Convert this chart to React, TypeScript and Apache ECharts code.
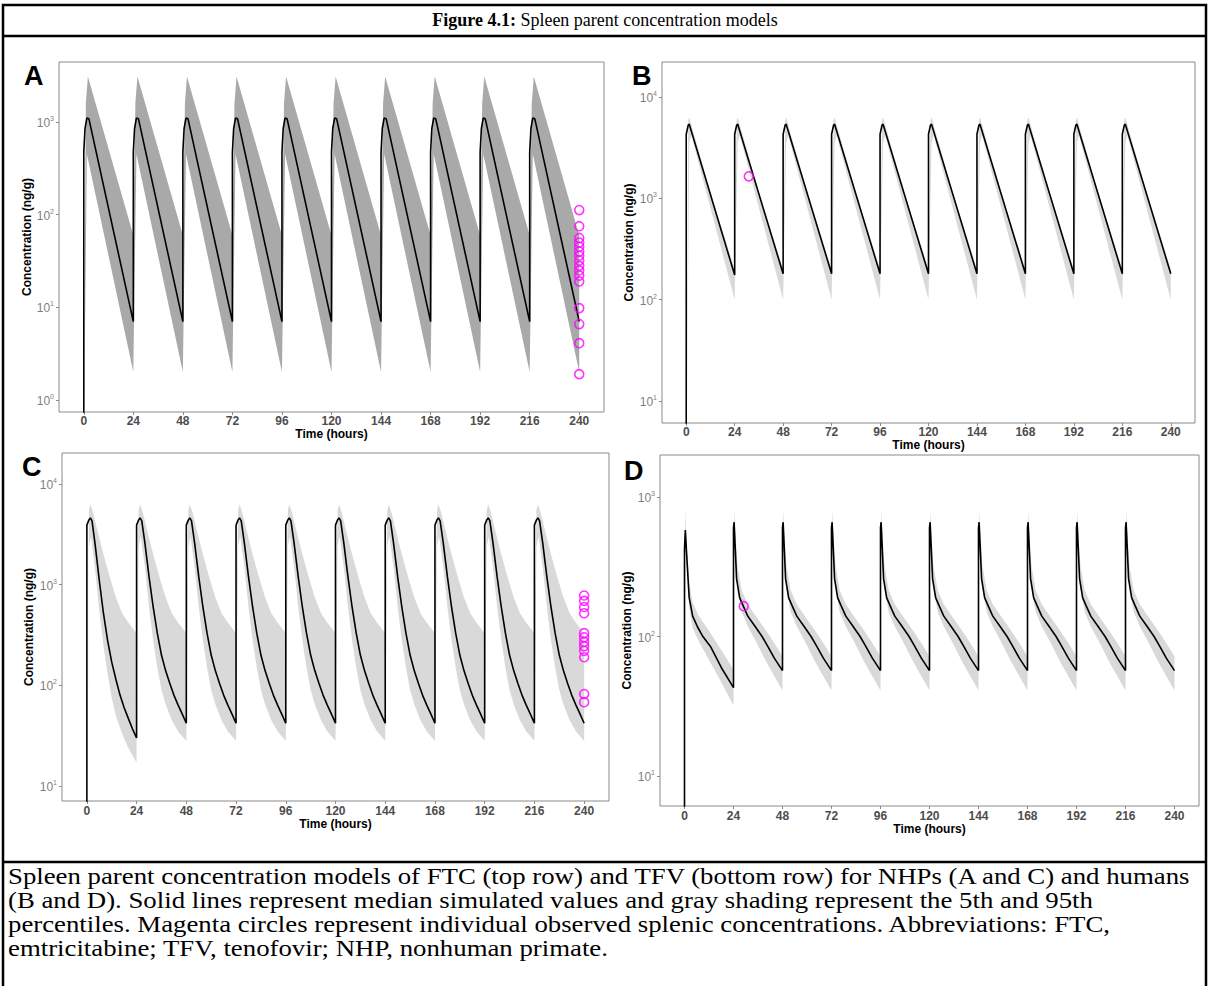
import React, { useEffect, useRef } from "react";
import * as echarts from "echarts";

const W = 1209;
const H = 986;
const SANS = "Liberation Sans, Arial, sans-serif";
const SERIF = "Liberation Serif, Times New Roman, serif";

// ---------- shared ----------
const doseTimes = [0, 24, 48, 72, 96, 120, 144, 168, 192, 216];
const xTicks = [0, 24, 48, 72, 96, 120, 144, 168, 192, 216, 240];

// ---------- Panel A: FTC, NHP ----------  [hours after dose, ng/g]
const aMedianFirst = [[0, 0.3], [0, 470], [0.6, 850], [1.5, 1100], [2.5, 1080], [24, 7]];
const aMedianRepeat = [[0, 7], [0, 470], [0.6, 850], [1.5, 1100], [2.5, 1080], [24, 7]];
const aUpperFirst = [[0, 0.3], [1, 1600], [2, 3100], [24, 60]];
const aUpperRepeat = [[0, 60], [1, 1600], [2, 3100], [24, 60]];
const aLowerFirst = [[0, 0.3], [1.5, 450], [24, 2]];
const aLowerRepeat = [[0, 2], [1.5, 450], [24, 2]];
const aObsTime = 240;
const aObserved = [112, 75, 56, 50, 45, 40, 36, 32, 28, 25, 22, 19, 9.8, 6.6, 4.1, 1.9];

// ---------- Panel B: FTC, human ----------
const bMedianFirst = [[0, 1], [0, 4300], [1, 5300], [1.5, 5400], [24, 175]];
const bMedianRepeat = [[0, 180], [0, 4300], [1, 5300], [1.5, 5400], [24, 180]];
const bUpperFirst = [[0, 1], [1, 5900], [1.5, 6300], [12, 1150], [24, 200]];
const bUpperRepeat = [[0, 200], [1, 5900], [1.5, 6300], [12, 1150], [24, 200]];
const bLowerFirst = [[0, 1], [1.5, 3500], [2.5, 4200], [24, 100]];
const bLowerRepeat = [[0, 100], [1.5, 3500], [2.5, 4200], [24, 100]];
const bObserved = [[31, 1650]];

// ---------- Panel C: TFV, NHP ----------
const cMedianFirst = [[0, 1], [0, 3900], [1, 4400], [1.7, 4600], [2.5, 4300], [4, 2500], [6, 1100], [8, 520], [10, 280], [12, 170], [14, 115], [16, 80], [18, 60], [20, 47], [22, 37], [24, 30]];
const cMedianRepeat = [[0, 42], [0, 3900], [1, 4400], [1.7, 4600], [2.5, 4300], [4, 2600], [6, 1200], [8, 600], [10, 330], [12, 200], [14, 140], [16, 105], [18, 80], [20, 64], [22, 52], [24, 42]];
const cUpperFirst = [[0, 1], [1, 5500], [1.7, 6300], [3, 5200], [5, 3500], [8, 2000], [11, 1200], [14, 750], [17, 520], [20, 420], [24, 330]];
const cUpperRepeat = [[0, 330], [1, 5500], [1.7, 6300], [3, 5200], [5, 3500], [8, 2000], [11, 1200], [14, 750], [17, 520], [20, 420], [24, 330]];
const cLowerFirst = [[0, 1], [1, 2400], [2, 3000], [4, 1400], [6, 550], [8, 250], [10, 130], [12, 75], [14, 50], [17, 33], [20, 24], [24, 17]];
const cLowerRepeat = [[0, 28], [1, 2400], [2, 3000], [4, 1500], [6, 600], [8, 280], [10, 150], [12, 90], [14, 65], [17, 45], [20, 35], [24, 28]];
const cObsTime = 240;
const cObserved = [780, 690, 600, 520, 330, 300, 270, 245, 220, 190, 82, 68];

// ---------- Panel D: TFV, human ----------
const dMedianFirst = [[0, 1], [0, 420], [0.4, 580], [1, 400], [2.3, 190], [4, 140], [6.4, 117], [9, 100], [12.9, 84], [18, 60], [24, 43]];
const dMedianRepeat = [[0, 57], [0, 600], [0.3, 660], [0.8, 450], [1.5, 260], [3, 190], [4.8, 165], [7, 140], [10.6, 118], [14, 100], [17, 84], [20, 70], [24, 57]];
const dUpperFirst = [[0, 1], [0.3, 820], [1, 480], [2.3, 240], [4, 175], [7, 140], [12, 110], [18, 80], [24, 58]];
const dUpperRepeat = [[0, 70], [0.3, 820], [1, 520], [2, 320], [4, 215], [7, 170], [11, 140], [16, 110], [20, 90], [24, 72]];
const dLowerFirst = [[0, 1], [0.4, 480], [1, 330], [2.3, 160], [4, 115], [7, 92], [12, 68], [18, 47], [24, 32]];
const dLowerRepeat = [[0, 42], [0.3, 540], [1, 360], [2, 220], [4, 150], [7, 118], [11, 92], [16, 66], [20, 52], [24, 41]];
const dObserved = [[29, 165]];

const titleBold = "Figure 4.1:";
const titleRest = " Spleen parent concentration models";
const captionLines = [
  "Spleen parent concentration models of FTC (top row) and TFV (bottom row) for NHPs (A and C) and humans",
  "(B and D). Solid lines represent median simulated values and gray shading represent the 5th and 95th",
  "percentiles. Magenta circles represent individual observed splenic concentrations. Abbreviations: FTC,",
  "emtricitabine; TFV, tenofovir; NHP, nonhuman primate.",
];

// ---------- helpers ----------
function buildCurve(first: number[][], repeat: number[][]) {
  const out: number[][] = [];
  doseTimes.forEach((d, i) => {
    const prof = i === 0 ? first : repeat;
    prof.forEach(([r, v]) => out.push([d + r, v]));
  });
  return out;
}

type PanelSpec = {
  letter: string;
  letterPos: [number, number];
  grid: { left: number; top: number; width: number; height: number };
  yMin: number;
  yMax: number;
  band: string;
  median: number[][];
  upper: number[][];
  lower: number[][];
  obs: number[][];
  labelMargin: number;
  nameGapX: number;
  nameGapY: number;
};

const panels: PanelSpec[] = [
  {
    letter: "A", letterPos: [24, 62],
    grid: { left: 59, top: 62, width: 545, height: 350 },
    yMin: 0.742, yMax: 4436, band: "#a9a9a9",
    median: buildCurve(aMedianFirst, aMedianRepeat),
    upper: buildCurve(aUpperFirst, aUpperRepeat),
    lower: buildCurve(aLowerFirst, aLowerRepeat),
    obs: aObserved.map((v) => [aObsTime, v]),
    labelMargin: 3, nameGapX: 15, nameGapY: 25,
  },
  {
    letter: "B", letterPos: [632, 62],
    grid: { left: 662, top: 62, width: 533, height: 361 },
    yMin: 6.05, yMax: 22210, band: "#d9d9d9",
    median: buildCurve(bMedianFirst, bMedianRepeat),
    upper: buildCurve(bUpperFirst, bUpperRepeat),
    lower: buildCurve(bLowerFirst, bLowerRepeat),
    obs: bObserved,
    labelMargin: 3, nameGapX: 14, nameGapY: 27,
  },
  {
    letter: "C", letterPos: [22, 453],
    grid: { left: 62, top: 453, width: 547, height: 348 },
    yMin: 7.1, yMax: 20300, band: "#d9d9d9",
    median: buildCurve(cMedianFirst, cMedianRepeat),
    upper: buildCurve(cUpperFirst, cUpperRepeat),
    lower: buildCurve(cLowerFirst, cLowerRepeat),
    obs: cObserved.map((v) => [cObsTime, v]),
    labelMargin: 4, nameGapX: 15, nameGapY: 27,
  },
  {
    letter: "D", letterPos: [624, 457],
    grid: { left: 660, top: 455, width: 539, height: 351 },
    yMin: 6.1, yMax: 2000, band: "#d9d9d9",
    median: buildCurve(dMedianFirst, dMedianRepeat),
    upper: buildCurve(dUpperFirst, dUpperRepeat),
    lower: buildCurve(dLowerFirst, dLowerRepeat),
    obs: dObserved,
    labelMargin: 4, nameGapX: 14, nameGapY: 27,
  },
];

function buildOption() {
  const grids: any[] = [];
  const xAxes: any[] = [];
  const yAxes: any[] = [];
  const series: any[] = [];
  const graphics: any[] = [];

  panels.forEach((p, i) => {
    grids.push({ ...p.grid, show: true, borderColor: "#8a8a8a", borderWidth: 1, backgroundColor: "#fff", containLabel: false });
    xAxes.push({
      type: "value", gridIndex: i, min: -12, max: 252,
      axisLine: { show: false, onZero: false },
      axisTick: { show: true, length: 3, lineStyle: { color: "#8a8a8a" }, customValues: xTicks },
      axisLabel: { customValues: xTicks, color: "#4d4d4d", fontWeight: "bold", fontSize: 12, fontFamily: SANS, margin: p.labelMargin },
      splitLine: { show: false },
      name: "Time (hours)", nameLocation: "middle", nameGap: p.nameGapX,
      nameTextStyle: { fontWeight: "bold", fontSize: 12, color: "#000", fontFamily: SANS },
    });
    yAxes.push({
      type: "log", logBase: 10, gridIndex: i, min: p.yMin, max: p.yMax,
      axisLine: { show: false, onZero: false },
      axisTick: { show: true, length: 3, lineStyle: { color: "#8a8a8a" } },
      axisLabel: {
        showMinLabel: false, showMaxLabel: false, margin: 5,
        formatter: (v: number) => `{b|10}{s|${Math.round(Math.log10(v))}}`,
        rich: {
          b: { fontSize: 12, color: "#7f7f7f", fontFamily: SANS, lineHeight: 14, verticalAlign: "bottom" },
          s: { fontSize: 7, color: "#7f7f7f", fontFamily: SANS, lineHeight: 14, verticalAlign: "top", padding: [0, 0, 6, 0] },
        },
      },
      splitLine: { show: false },
      name: "Concentration (ng/g)", nameLocation: "middle", nameGap: p.nameGapY, nameRotate: 90,
      nameTextStyle: { fontWeight: "bold", fontSize: 12, color: "#000", fontFamily: SANS },
    });

    const poly = p.upper.concat(p.lower.slice().reverse());
    const fill = p.band;
    series.push({
      type: "custom", xAxisIndex: i, yAxisIndex: i, clip: true, silent: true, z: 1,
      data: poly, encode: { x: 0, y: 1 },
      renderItem: (params: any, api: any) => {
        if (params.dataIndex !== 0) return null;
        const points = poly.map((pt) => api.coord(pt));
        return { type: "polygon", shape: { points }, style: { fill, stroke: null } };
      },
    });
    series.push({
      type: "line", xAxisIndex: i, yAxisIndex: i, data: p.median, showSymbol: false, clip: true, z: 3,
      lineStyle: { color: "#000", width: 1.6 }, silent: true,
    });
    series.push({
      type: "scatter", xAxisIndex: i, yAxisIndex: i, data: p.obs, symbol: "circle", symbolSize: 9, z: 4,
      itemStyle: { color: "rgba(0,0,0,0)", borderColor: "#ff00ff", borderWidth: 1.6 }, silent: true,
    });

    graphics.push({
      type: "text", x: p.letterPos[0], y: p.letterPos[1],
      style: { text: p.letter, font: `bold 27px ${SANS}`, fill: "#000", textVerticalAlign: "top" },
    });
  });

  // frame
  graphics.push({ type: "rect", shape: { x: 3, y: 5, width: 1203, height: 1010 }, style: { fill: "none", stroke: "#000", lineWidth: 2.5 } });
  graphics.push({ type: "line", shape: { x1: 3, y1: 36, x2: 1206, y2: 36 }, style: { stroke: "#000", lineWidth: 2.5 } });
  graphics.push({ type: "line", shape: { x1: 3, y1: 862, x2: 1206, y2: 862 }, style: { stroke: "#000", lineWidth: 2.5 } });
  graphics.push({
    type: "text", x: 605, y: 20,
    style: {
      text: `{b|${titleBold}}${titleRest}`,
      rich: { b: { font: `bold 18px ${SERIF}`, fill: "#000" } },
      font: `18px ${SERIF}`, fill: "#000", textAlign: "center", textVerticalAlign: "middle",
    },
  });
  captionLines.forEach((line, k) => {
    graphics.push({
      type: "text", x: 8, y: 876 + k * 24, scaleX: 1.165,
      style: { text: line, font: `23px ${SERIF}`, fill: "#000", textAlign: "left", textVerticalAlign: "middle" },
    });
  });

  return {
    animation: false,
    backgroundColor: "#fff",
    grid: grids,
    xAxis: xAxes,
    yAxis: yAxes,
    series,
    graphic: { elements: graphics },
  };
}

export default function App() {
  const ref = useRef<HTMLDivElement>(null);
  useEffect(() => {
    if (!ref.current) return;
    const chart = echarts.init(ref.current, undefined, { renderer: "svg", width: W, height: H });
    chart.setOption(buildOption() as any);
    return () => chart.dispose();
  }, []);
  return <div ref={ref} style={{ position: "absolute", left: 0, top: 0, width: W, height: H }} />;
}
